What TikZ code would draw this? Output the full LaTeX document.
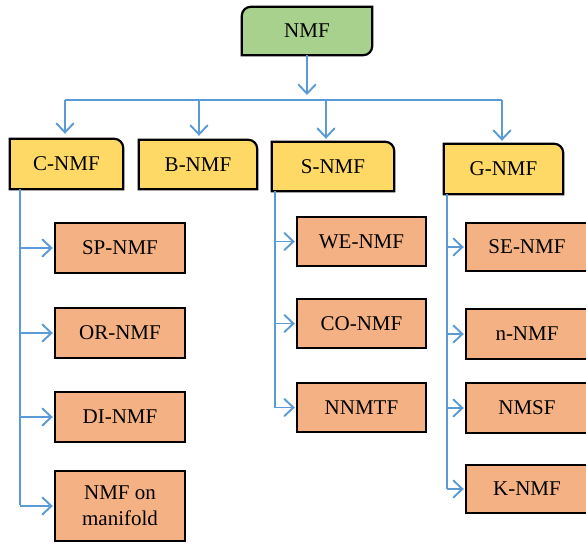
\documentclass[tikz,border=0pt]{standalone}
\usepackage{fontspec}
\setmainfont{Liberation Serif}
\usetikzlibrary{arrows.meta,calc}
\pgfdeclarelayer{bg}\pgfsetlayers{bg,main}
\definecolor{cgreen}{HTML}{A9D18E}
\definecolor{cyellow}{HTML}{FFD966}
\definecolor{corange}{HTML}{F4B183}
\definecolor{cblue}{HTML}{5B9BD5}
\tikzset{
  lbl/.style={inner sep=0pt, font=\fontsize{21}{26}\selectfont, align=center},
  boxline/.style={draw=black, line width=2.2pt},
  conn/.style={draw=cblue, line width=1.6pt},
  arr/.style={conn, -{Straight Barb[length=9pt,width=17pt,line width=1.9pt,line cap=round]}},
}
\begin{document}
\begin{tikzpicture}[x=1pt,y=1pt]
\path[use as bounding box] (0,0) rectangle (586,-544);
\clip (0,0) rectangle (586,-544);

% top and level-1 nodes
\node[lbl, minimum width=130pt, minimum height=48pt] (NMF) at (307,-31) {NMF};
\node[lbl, minimum width=113pt, minimum height=50pt] (C) at (66.5,-164) {C-NMF};
\node[lbl, minimum width=118pt, minimum height=49pt] (B) at (198,-164.5) {B-NMF};
\node[lbl, minimum width=122pt, minimum height=49pt] (S) at (333,-166.5) {S-NMF};
\node[lbl, minimum width=119pt, minimum height=50pt] (G) at (503.5,-169) {G-NMF};

% children of C-NMF
\node[lbl, minimum width=130pt, minimum height=50pt] (SP) at (120,-248) {SP-NMF};
\node[lbl, minimum width=130pt, minimum height=50pt] (OR) at (120,-333) {OR-NMF};
\node[lbl, minimum width=130pt, minimum height=50pt] (DI) at (120,-417) {DI-NMF};
\node[lbl, minimum width=130pt, minimum height=70pt] (MAN) at (120,-506) {NMF on\\manifold};

% children of S-NMF
\node[lbl, minimum width=129pt, minimum height=49pt] (WE) at (361.5,-241.5) {WE-NMF};
\node[lbl, minimum width=129pt, minimum height=49pt] (CO) at (361.5,-323.5) {CO-NMF};
\node[lbl, minimum width=129pt, minimum height=49pt] (NN) at (361.5,-407.5) {NNMTF};

% children of G-NMF
\node[lbl, minimum width=122pt, minimum height=48pt] (SE) at (527,-247) {SE-NMF};
\node[lbl, minimum width=122pt, minimum height=50pt] (NNMF) at (527,-334) {n-NMF};
\node[lbl, minimum width=122pt, minimum height=50pt] (NMSF) at (527,-408) {NMSF};
\node[lbl, minimum width=122pt, minimum height=48pt] (K) at (527,-489) {K-NMF};

\begin{pgfonlayer}{bg}
\clip (0,0) rectangle (586,-544);
\fill[white] (0,0) rectangle (586,-544);
% NMF box: rounded top-left and bottom-right
\path[boxline, fill=cgreen] (NMF.south west) -- ([yshift=-9pt]NMF.north west)
  arc[start angle=180, end angle=90, radius=9pt] -- (NMF.north east)
  -- ([yshift=9pt]NMF.south east) arc[start angle=0, end angle=-90, radius=9pt] -- cycle;
% level-1 boxes: rounded top-right
\foreach \n in {C,B,S,G}{
  \path[boxline, fill=cyellow] (\n.south west) -- (\n.north west)
    -- ([xshift=-9pt]\n.north east) arc[start angle=90, end angle=0, radius=9pt]
    -- (\n.south east) -- cycle;
}
\foreach \n in {SP,OR,DI,MAN,WE,CO,NN,SE,NNMF,NMSF,K}{
  \path[boxline, fill=corange] (\n.south west) rectangle (\n.north east);
}
\end{pgfonlayer}

% top connectors
\coordinate (hub) at (307,-100);
\coordinate (hl) at (65,-100);
\coordinate (hr) at (502,-100);
\coordinate (bb) at (199,-100);
\coordinate (sb) at (326,-100);
\draw[arr, shorten >=5pt] (NMF.south) -- (hub);
\draw[conn] (hl) -- (hr);
\draw[arr, shorten >=5pt] (hl) -- (hl |- C.north);
\draw[arr, shorten >=4pt] (bb) -- (bb |- B.north);
\draw[arr, shorten >=3pt] (sb) -- (sb |- S.north);
\draw[arr, shorten >=3pt] (hr) -- (hr |- G.north);

% C-NMF branch
\coordinate (cv) at (20,-189);
\coordinate (cve) at (20,-505);
\draw[conn, line width=1.3pt] (cv) -- (cve);
\foreach \n in {SP,OR,DI,MAN}{\draw[arr, shorten >=2pt] (\n.west -| cv) -- (\n.west);}

% S-NMF branch
\coordinate (sv) at (275,-191);
\coordinate (sve) at (275,-408);
\draw[conn, line width=1.3pt] (sv) -- (sve);
\foreach \n in {WE,CO,NN}{\draw[arr, shorten >=2pt] (\n.west -| sv) -- (\n.west);}

% G-NMF branch
\coordinate (gv) at (447,-194);
\coordinate (gve) at (447,-489);
\draw[conn, line width=1.3pt] (gv) -- (gve);
\foreach \n in {SE,NNMF,NMSF,K}{\draw[arr, shorten >=2pt] (\n.west -| gv) -- (\n.west);}
\end{tikzpicture}
\end{document}
